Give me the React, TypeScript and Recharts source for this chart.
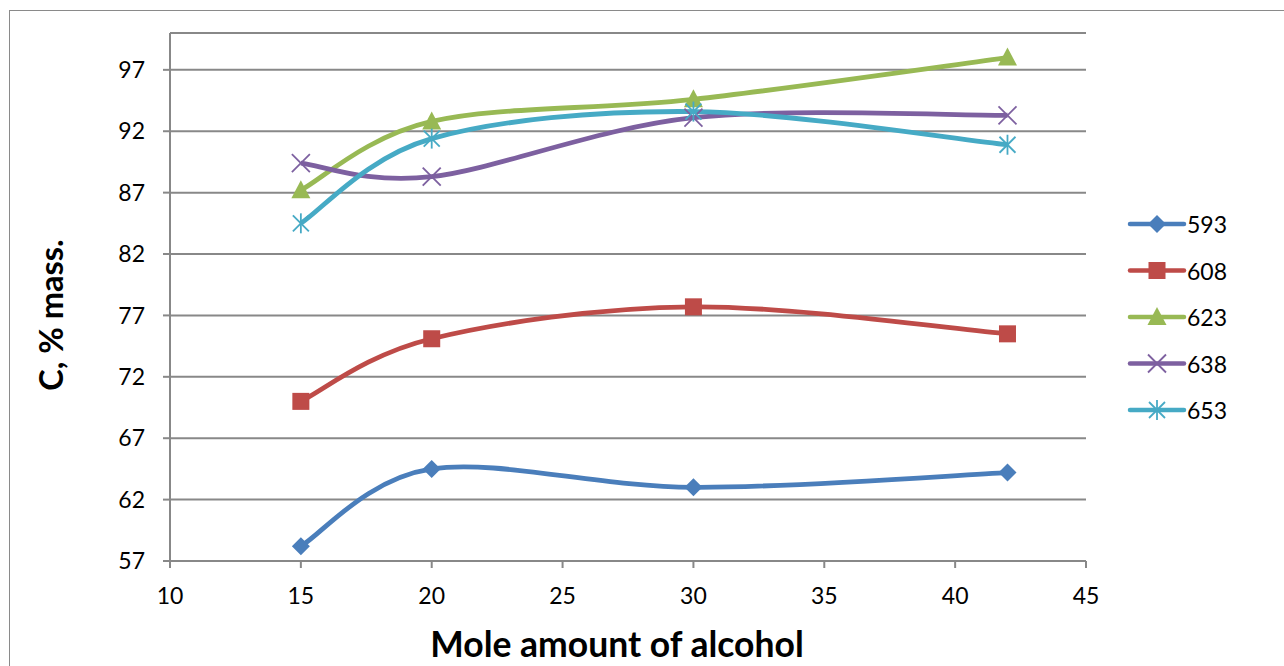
import React from 'react';
import { LineChart, Line, XAxis, YAxis, CartesianGrid } from 'recharts';

const moles = [15, 20, 30, 42];
const c593 = [58.2, 64.5, 63.0, 64.2];
const c608 = [70.0, 75.1, 77.7, 75.5];
const c623 = [87.2, 92.8, 94.6, 98.0];
const c638 = [89.4, 88.3, 93.1, 93.3];
const c653 = [84.5, 91.4, 93.6, 90.9];
const xTicks = [10, 15, 20, 25, 30, 35, 40, 45];
const yTicks = [57, 62, 67, 72, 77, 82, 87, 92, 97];

type Kind = 'diamond' | 'square' | 'triangle' | 'cross' | 'star';

const series: { key: string; name: string; color: string; kind: Kind }[] = [
  { key: 's593', name: '593', color: '#4A7EBB', kind: 'diamond' },
  { key: 's608', name: '608', color: '#BE4B48', kind: 'square' },
  { key: 's623', name: '623', color: '#98B954', kind: 'triangle' },
  { key: 's638', name: '638', color: '#7D60A0', kind: 'cross' },
  { key: 's653', name: '653', color: '#46AAC5', kind: 'star' },
];

const data = moles.map((m, i) => ({
  x: m,
  s593: c593[i],
  s608: c608[i],
  s623: c623[i],
  s638: c638[i],
  s653: c653[i],
}));

// Catmull-Rom style smoothing, the way office charts bend their lines
const smoothCurve = (context: any) => {
  let pts: [number, number][] = [];
  return {
    areaStart() {},
    areaEnd() {},
    lineStart() {
      pts = [];
    },
    point(x: number, y: number) {
      pts.push([+x, +y]);
    },
    lineEnd() {
      if (!pts.length) return;
      context.moveTo(pts[0][0], pts[0][1]);
      for (let i = 0; i < pts.length - 1; i++) {
        const p0 = pts[Math.max(i - 1, 0)];
        const p1 = pts[i];
        const p2 = pts[i + 1];
        const p3 = pts[Math.min(i + 2, pts.length - 1)];
        context.bezierCurveTo(
          p1[0] + (p2[0] - p0[0]) / 6,
          p1[1] + (p2[1] - p0[1]) / 6,
          p2[0] - (p3[0] - p1[0]) / 6,
          p2[1] - (p3[1] - p1[1]) / 6,
          p2[0],
          p2[1]
        );
      }
    },
  };
};

function Marker({ kind, cx, cy, color }: { kind: Kind; cx: number; cy: number; color: string }) {
  if (cx == null || cy == null) return null;
  switch (kind) {
    case 'diamond':
      return (
        <polygon
          points={`${cx},${cy - 9} ${cx + 9},${cy} ${cx},${cy + 9} ${cx - 9},${cy}`}
          fill={color}
        />
      );
    case 'square':
      return <rect x={cx - 8.5} y={cy - 8.5} width={17} height={17} fill={color} />;
    case 'triangle':
      return (
        <polygon
          points={`${cx},${cy - 10} ${cx + 9.5},${cy + 8} ${cx - 9.5},${cy + 8}`}
          fill={color}
        />
      );
    case 'cross':
      return (
        <g stroke={color} strokeWidth={1.8}>
          <line x1={cx - 9} y1={cy - 9} x2={cx + 9} y2={cy + 9} />
          <line x1={cx - 9} y1={cy + 9} x2={cx + 9} y2={cy - 9} />
        </g>
      );
    case 'star':
      return (
        <g stroke={color} strokeWidth={1.8}>
          <line x1={cx - 8} y1={cy - 8} x2={cx + 8} y2={cy + 8} />
          <line x1={cx - 8} y1={cy + 8} x2={cx + 8} y2={cy - 8} />
          <line x1={cx} y1={cy - 10} x2={cx} y2={cy + 10} />
        </g>
      );
  }
  return null;
}

function SeriesLegend() {
  return (
    <svg width={160} height={240} style={{ position: 'absolute', left: 1108, top: 189 }}>
      {series.map((s, i) => {
        const y = 24 + i * 46.5;
        return (
          <g key={s.key}>
            <line x1={12} y1={y} x2={66} y2={y} stroke={s.color} strokeWidth={4.5} strokeLinecap="round" />
            <Marker kind={s.kind} cx={39} cy={y} color={s.color} />
            <text x={69} y={y} dominantBaseline="central" fontSize={23} fill="#000" fontFamily="Lato">
              {s.name}
            </text>
          </g>
        );
      })}
    </svg>
  );
}

export default function App() {
  return (
    <div
      style={{
        position: 'absolute',
        left: 9,
        top: 10,
        width: 1290,
        height: 670,
        border: '1px solid #8a8a8a',
        background: '#fff',
      }}
    >
      <LineChart
        width={1290}
        height={670}
        data={data}
        margin={{ top: 22, right: 214, left: 0, bottom: 0 }}
        style={{ fontFamily: 'Lato' }}
      >
        <CartesianGrid vertical={false} stroke="#888" strokeWidth={2} />
        <XAxis
          dataKey="x"
          type="number"
          domain={[10, 45]}
          ticks={xTicks}
          height={120}
          stroke="#888"
          strokeWidth={2}
          tickSize={7}
          tickMargin={20}
          tick={{ fill: '#000', fontSize: 23 }}
          label={{
            content: () => (
              <text x={607} y={632} textAnchor="middle" dominantBaseline="central" fontSize={35.5} fontWeight="bold" fill="#000">
                Mole amount of alcohol
              </text>
            ),
          }}
        />
        <YAxis
          type="number"
          domain={[57, 100]}
          ticks={yTicks}
          width={160}
          stroke="#888"
          strokeWidth={2}
          tickSize={7}
          tickMargin={18}
          tick={{ fill: '#000', fontSize: 23 }}
          label={{
            content: () => (
              <text
                x={40}
                y={304}
                textAnchor="middle"
                dominantBaseline="central"
                fontSize={32.5}
                fontWeight="bold"
                fill="#000"
                transform="rotate(-90 40 304)"
              >
                C, % mass.
              </text>
            ),
          }}
        />
        {series.map((s) => (
          <Line
            key={s.key}
            dataKey={s.key}
            name={s.name}
            type={smoothCurve as any}
            stroke={s.color}
            strokeWidth={4.8}
            isAnimationActive={false}
            dot={(p: any) => <Marker key={`${s.key}-${p.index}`} kind={s.kind} cx={p.cx} cy={p.cy} color={s.color} />}
            activeDot={false}
          />
        ))}
      </LineChart>
      <SeriesLegend />
    </div>
  );
}
